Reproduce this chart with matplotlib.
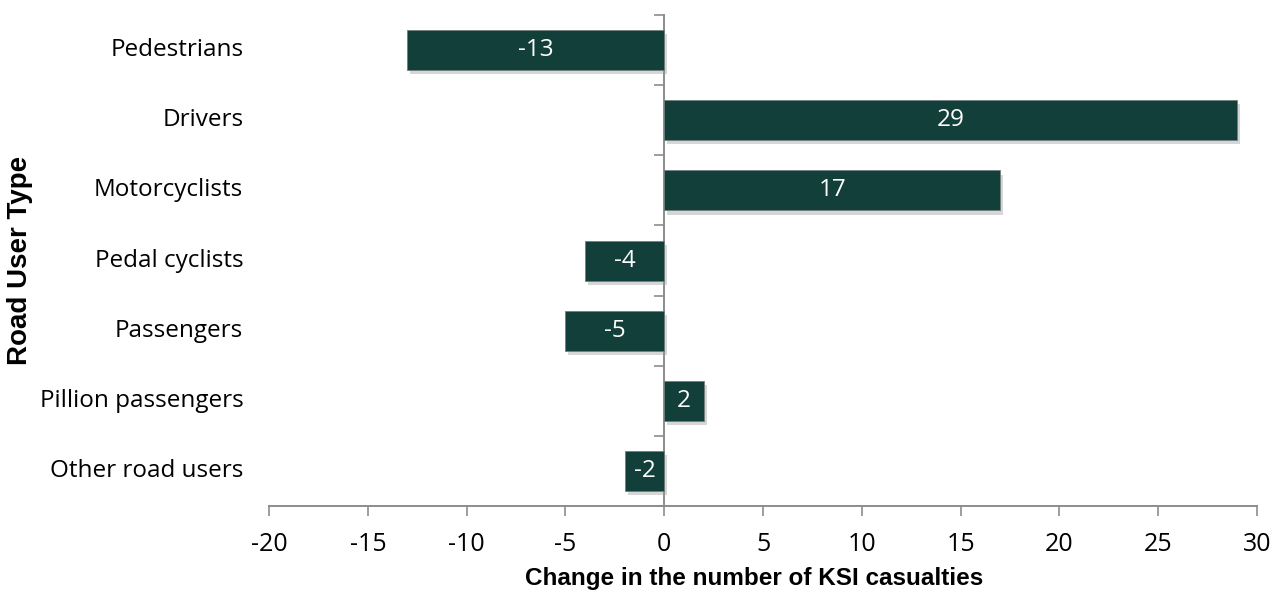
import numpy as np
import matplotlib.pyplot as plt
import matplotlib.patheffects as pe
from matplotlib.transforms import blended_transform_factory

# change in KSI casualties by road user type
categories = ['Pedestrians', 'Drivers', 'Motorcyclists', 'Pedal cyclists',
              'Passengers', 'Pillion passengers', 'Other road users']
changes = [-13, 29, 17, -4, -5, 2, -2]

bar_col = '#133f3a'
axis_col = '#8c8c8c'
plt.rcParams['font.family'] = ['Open Sans', 'DejaVu Sans']
plt.rcParams['axes.unicode_minus'] = False

fig = plt.figure(figsize=(12.8, 6.06), dpi=100)
ax = fig.add_axes([0.2102, 0.165, 0.7719, 0.8102])

n = len(categories)
ypos = np.arange(n)[::-1]
bars = ax.barh(ypos, changes, height=0.57, color=bar_col, edgecolor='#6f7f7d',
               linewidth=0.6, zorder=3)
for b in bars:
    b.set_path_effects([pe.SimplePatchShadow(offset=(2, -3), shadow_rgbFace='#999999', alpha=0.4),
                        pe.Normal()])

for y, v in zip(ypos, changes):
    ax.text(v / 2, y, str(v), ha='center', va='center', color='white',
            fontsize=17.5, zorder=4)

ax.set_xlim(-20, 30)
ax.set_ylim(-0.5, n - 0.5)
ax.set_xticks(np.arange(-20, 31, 5))
ax.tick_params(axis='x', labelsize=18, length=7, color=axis_col, width=1.2, pad=12)

# category axis sits on zero, ticks at band edges
ax.spines['left'].set_position(('data', 0))
ax.set_yticks(np.arange(-0.5, n, 1.0))
ax.set_yticklabels([])
ax.tick_params(axis='y', length=7, color=axis_col, width=1.2)
for s in ['top', 'right']:
    ax.spines[s].set_visible(False)
for s in ['left', 'bottom']:
    ax.spines[s].set_color(axis_col)
    ax.spines[s].set_linewidth(1.4)

trans = blended_transform_factory(ax.transAxes, ax.transData)
for y, c in zip(ypos, categories):
    ax.text(-0.026, y, c, transform=trans, ha='right', va='center', fontsize=17.5)

fig.text(0.589, 0.046, 'Change in the number of KSI casualties', ha='center',
         va='center', fontsize=17.5, fontweight='bold', family='Liberation Sans')
fig.text(0.016, 0.571, 'Road User Type', rotation=90, ha='center', va='center',
         fontsize=20, fontweight='bold', family='Liberation Sans')

fig.savefig('out.png', dpi=100)
